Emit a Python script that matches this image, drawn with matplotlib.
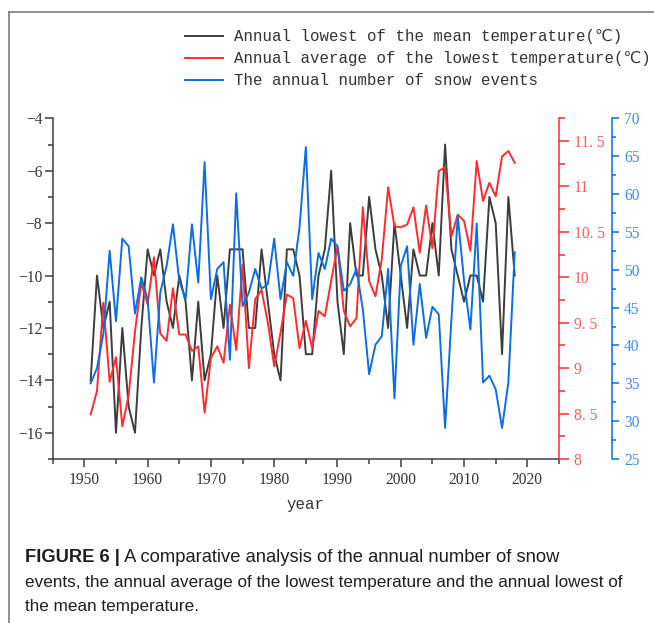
import numpy as np
import matplotlib
matplotlib.use('Agg')
import matplotlib.pyplot as plt
from matplotlib import font_manager
from matplotlib.lines import Line2D
from matplotlib.ticker import MultipleLocator

# yearly series, 1951-2018
years = np.arange(1951, 2019)

# annual lowest of the mean temperature (C), left axis
lowest_mean = [-14, -10, -12, -11, -16, -12, -15, -16, -12, -9,
               -10, -9, -11, -12, -10, -11, -14, -11, -14, -13,
               -10, -12, -9, -9, -9, -12, -12, -9, -11, -13,
               -14, -9, -9, -10, -13, -13, -10, -9, -6, -11,
               -13, -8, -10, -10, -7, -9, -10, -12, -8, -10,
               -12, -9, -10, -10, -8, -10, -5, -9, -10, -11,
               -10, -10, -11, -7, -8, -13, -7, -10]

# annual average of the lowest temperature (C), red axis
avg_lowest = [8.49, 8.75, 9.72, 8.85, 9.12, 8.36, 8.70, 9.40, 9.94, 9.70,
              10.22, 9.38, 9.30, 9.88, 9.37, 9.37, 9.19, 9.24, 8.51, 9.11,
              9.24, 9.06, 9.70, 9.20, 10.14, 9.00, 9.76, 9.86, 9.50, 9.02,
              9.39, 9.81, 9.77, 9.22, 9.52, 9.22, 9.63, 9.57, 9.96, 10.34,
              9.63, 9.46, 9.55, 10.77, 9.96, 9.79, 10.20, 10.99, 10.56, 10.55,
              10.58, 10.77, 10.27, 10.79, 10.32, 11.17, 11.21, 10.45, 10.69, 10.62,
              10.29, 11.28, 10.84, 11.04, 10.89, 11.33, 11.39, 11.26]

# annual number of snow events, blue axis
snow_events = [35.0, 37.0, 41.5, 52.5, 43.2, 54.1, 53.1, 44.2, 49.0, 46.1,
               35.1, 47.0, 50.5, 56.0, 48.5, 46.1, 56.0, 48.3, 64.2, 46.1,
               50.1, 51.0, 38.1, 60.1, 45.2, 47.0, 50.1, 47.5, 48.1, 54.1,
               46.1, 51.0, 49.2, 55.6, 66.2, 46.1, 52.2, 50.1, 54.1, 53.1,
               47.2, 48.1, 50.1, 44.8, 36.2, 40.1, 41.2, 50.1, 33.0, 50.5,
               53.1, 40.1, 48.1, 41.0, 45.1, 44.1, 29.1, 43.4, 57.1, 48.5,
               42.1, 56.1, 35.1, 36.0, 34.2, 29.1, 35.1, 52.3]

x_ticks = [1950, 1960, 1970, 1980, 1990, 2000, 2010, 2020]
left_ticks = [-16, -14, -12, -10, -8, -6, -4]
red_ticks = [8, 8.5, 9, 9.5, 10, 10.5, 11, 11.5]
red_tick_labels = ['8', '8. 5', '9', '9. 5', '10', '10. 5', '11', '11. 5']
blue_ticks = [25, 30, 35, 40, 45, 50, 55, 60, 65, 70]

series_labels = ['Annual lowest of the mean temperature(\u2103)',
                 'Annual average of the lowest temperature(\u2103)',
                 'The annual number of snow events']

caption_bold = 'FIGURE 6 |'
caption_lines = [' A comparative analysis of the annual number of snow',
                 'events, the annual average of the lowest temperature and the annual lowest of',
                 'the mean temperature.']

BLACK = '#3d3d3d'
RED = '#ff2b2b'
BLUE = '#0a6fe0'

mono = ['Liberation Mono', 'DejaVu Sans Mono', 'DejaVu Sans']
serif = ['Liberation Serif', 'DejaVu Serif']
installed = {f.name for f in font_manager.fontManager.ttflist}
cap_font = 'Liberation Sans Narrow' if 'Liberation Sans Narrow' in installed else 'Liberation Sans'

W, H = 654, 623
fig = plt.figure(figsize=(W / 100, H / 100), dpi=100)

# main axes in pixel terms: x 52.7..559, y 118.3..459 from the top
L, R, T, B = 52.7, 559.0, 118.3, 459.0
ax = fig.add_axes([L / W, 1 - B / H, (R - L) / W, (B - T) / H])

ax.plot(years, lowest_mean, color=BLACK, lw=1.4)
ax.set_xlim(1945, 2025)
ax.set_ylim(-17, -4)

ax_r = ax.twinx()
ax_r.plot(years, avg_lowest, color=RED, lw=1.4)
ax_r.set_ylim(8, 11.75)

ax_b = ax.twinx()
ax_b.spines['right'].set_position(('axes', (611.7 - L) / (R - L)))
ax_b.plot(years, snow_events, color=BLUE, lw=1.4)
ax_b.set_ylim(25, 70)

for a in (ax, ax_r, ax_b):
    a.spines['top'].set_visible(False)
ax.spines['right'].set_visible(False)
for a in (ax_r, ax_b):
    a.spines['left'].set_visible(False)
    a.spines['bottom'].set_visible(False)
ax.spines['left'].set_color(BLACK)
ax.spines['bottom'].set_color(BLACK)
ax_r.spines['right'].set_color(RED)
ax_b.spines['right'].set_color(BLUE)
for a in (ax, ax_r, ax_b):
    for s in a.spines.values():
        s.set_linewidth(1.1)

ax.set_xticks(x_ticks)
ax.set_xticklabels([str(t) for t in x_ticks])
ax.xaxis.set_minor_locator(MultipleLocator(5))
ax.set_yticks(left_ticks)
ax.yaxis.set_minor_locator(MultipleLocator(1))
ax.tick_params(axis='both', which='major', direction='out', length=6, width=1.1,
               color=BLACK, labelcolor='#333333', labelsize=11.2)
ax.tick_params(axis='both', which='minor', direction='out', length=3.5, width=1.1,
               color=BLACK)
ax.tick_params(axis='y', pad=1.5)
ax.tick_params(axis='x', pad=3.5)

ax_r.set_yticks(red_ticks)
ax_r.set_yticklabels(red_tick_labels)
ax_r.yaxis.set_minor_locator(MultipleLocator(0.25))
ax_r.tick_params(axis='y', which='major', direction='out', length=7, width=1.1,
                 color=RED, labelcolor='#ff5a5a', labelsize=11.2, pad=3.5)
ax_r.tick_params(axis='y', which='minor', direction='out', length=4, width=1.1, color=RED)

ax_b.set_yticks(blue_ticks)
ax_b.yaxis.set_minor_locator(MultipleLocator(2.5))
ax_b.tick_params(axis='y', which='major', direction='out', length=5, width=1.1,
                 color=BLUE, labelcolor='#3a8ee8', labelsize=11.2, pad=4)
ax_b.tick_params(axis='y', which='minor', direction='out', length=3, width=1.1, color=BLUE)

for a in (ax, ax_r, ax_b):
    for lab in a.get_xticklabels() + a.get_yticklabels():
        lab.set_family(serif)

ax.text(0.5, (B - 505) / (B - T), 'year', transform=ax.transAxes, ha='center',
        va='center', fontsize=11.3, family=mono, color='#333333')

handles = [Line2D([], [], color=c, lw=1.4) for c in (BLACK, RED, BLUE)]
fig.legend(handles, series_labels, loc='upper left',
           bbox_to_anchor=(185 / W, 1 - 29.5 / H), frameon=False,
           prop={'family': mono, 'size': 11.3}, handlelength=2.4,
           handletextpad=0.7, labelspacing=0.44, borderpad=0, borderaxespad=0,
           labelcolor='#333333')

# caption under the chart; first line set a little larger
renderer = fig.canvas.get_renderer()
cap_y = [557, 582, 606]
t = fig.text(25 / W, 1 - cap_y[0] / H, caption_bold, fontsize=13.2, weight='bold',
             family=cap_font, va='center', color='#1e1e1e')
bb = t.get_window_extent(renderer)
fig.text(bb.x1 / W, 1 - cap_y[0] / H, caption_lines[0], fontsize=13.2,
         family=cap_font, va='center', color='#1e1e1e')
for line, yy in zip(caption_lines[1:], cap_y[1:]):
    fig.text(25 / W, 1 - yy / H, line, fontsize=12.3, family=cap_font,
             va='center', color='#1e1e1e')

# thin grey frame on the top and left edges
fig.add_artist(Line2D([9 / W, 9 / W], [0, 1 - 12.3 / H], transform=fig.transFigure,
                      color='#707070', lw=1.1))
fig.add_artist(Line2D([9 / W, 1], [1 - 12.3 / H, 1 - 12.3 / H], transform=fig.transFigure,
                      color='#707070', lw=1.1))

fig.savefig('out.png', dpi=100)
